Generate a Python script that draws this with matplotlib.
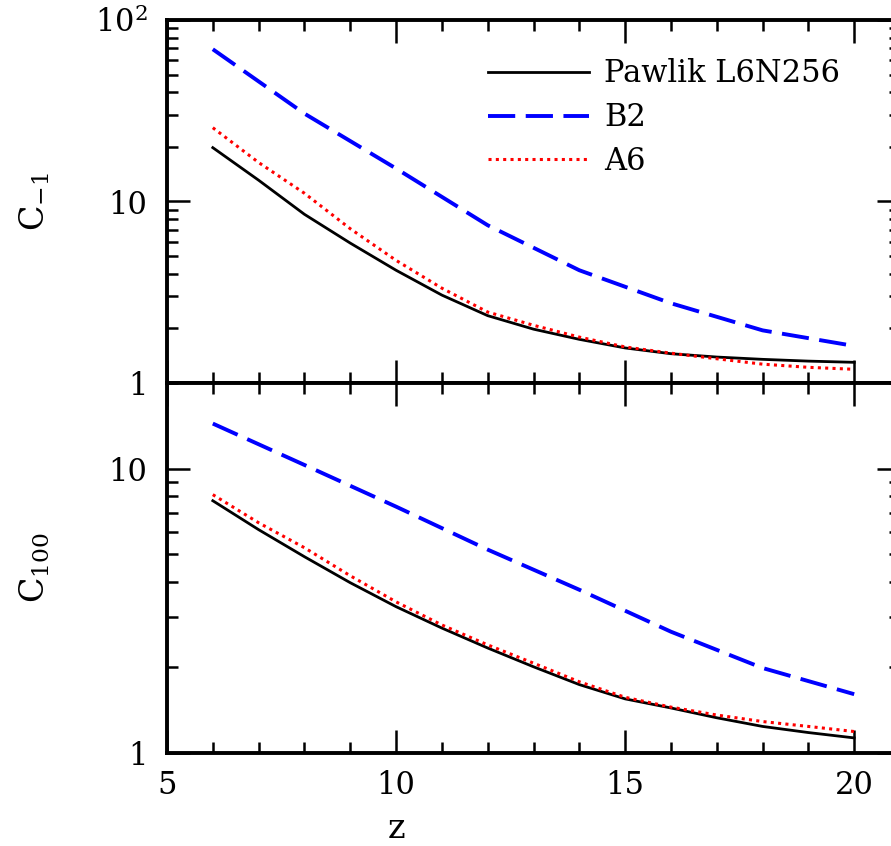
import numpy as np
import matplotlib
matplotlib.use("Agg")
import matplotlib.pyplot as plt
from matplotlib.ticker import LogLocator, FixedLocator, NullFormatter, FixedFormatter

plt.rcParams['font.family'] = ['DejaVu Serif']
plt.rcParams['mathtext.fontset'] = 'dejavuserif'
plt.rcParams['mathtext.default'] = 'regular'

# redshift samples
z_fine = [6, 7, 8, 9, 10, 11, 12, 13, 14, 15, 16, 17, 18, 19, 20]
z_b2 = [6, 8, 10, 12, 14, 16, 18, 20]

# clumping factor C_-1
c1_pawlik = [19.8, 13.1, 8.5, 5.9, 4.18, 3.05, 2.35, 1.98, 1.74, 1.56, 1.45, 1.39, 1.35, 1.32, 1.30]
c1_a6 = [25.5, 16.4, 11.1, 7.08, 4.74, 3.33, 2.46, 2.08, 1.79, 1.58, 1.46, 1.36, 1.27, 1.22, 1.19]
c1_b2 = [69.0, 30.5, 15.2, 7.4, 4.18, 2.75, 1.95, 1.60]

# clumping factor C_100
c100_pawlik = [7.71, 6.1, 4.9, 3.97, 3.27, 2.75, 2.34, 2.01, 1.74, 1.55, 1.44, 1.33, 1.24, 1.18, 1.13]
c100_a6 = [8.1, 6.45, 5.27, 4.2, 3.40, 2.82, 2.40, 2.07, 1.78, 1.57, 1.45, 1.36, 1.29, 1.24, 1.19]
c100_b2 = [14.4, 10.3, 7.35, 5.19, 3.75, 2.67, 1.99, 1.61]

labels = ["Pawlik L6N256", "B2", "A6"]

fig = plt.figure(figsize=(8.91, 8.46), dpi=100)
W, H = 891.0, 846.0
left, right = 167 / W, 900 / W
ax1 = fig.add_axes([left, (H - 383) / H, right - left, (383 - 20) / H])
ax2 = fig.add_axes([left, (H - 753) / H, right - left, (753 - 383) / H])

styles = [
    dict(color='black', lw=2.0, ls='-'),
    dict(color='blue', lw=2.8, ls=(0, (7, 2.7))),
    dict(color='red', lw=2.2, ls=(0, (1, 1.4))),
]

panels = [(ax1, [(z_fine, c1_pawlik), (z_b2, c1_b2), (z_fine, c1_a6)]),
          (ax2, [(z_fine, c100_pawlik), (z_b2, c100_b2), (z_fine, c100_a6)])]

for ax, series in panels:
    for (x, y), st, lab in zip(series, styles, labels):
        ax.plot(x, y, label=lab, **st)
    ax.set_yscale('log')
    ax.set_xlim(5, 21)
    for sp in ax.spines.values():
        sp.set_linewidth(2.8)
    ax.xaxis.set_major_locator(FixedLocator([5, 10, 15, 20]))
    ax.xaxis.set_minor_locator(FixedLocator(np.arange(5, 22, 1)))
    ax.yaxis.set_minor_locator(LogLocator(base=10, subs=np.arange(2, 10), numticks=10))
    ax.yaxis.set_minor_formatter(NullFormatter())
    ax.tick_params(which='both', direction='in', top=True, right=True,
                   labelsize=22, width=1.8, pad=12)
    ax.tick_params(which='major', length=16.5)
    ax.tick_params(which='minor', length=8)
    ax.tick_params(axis='y', pad=14)

ax1.set_ylim(1, 100)
ax2.set_ylim(1, 20)

ax1.yaxis.set_major_locator(FixedLocator([1, 10, 100]))
ax1.yaxis.set_major_formatter(FixedFormatter(['1', '10', '$10^2$']))
ax2.yaxis.set_major_locator(FixedLocator([1, 10]))
ax2.yaxis.set_major_formatter(FixedFormatter(['1', '10']))
ax1.tick_params(axis='x', labelbottom=False)

ax1.set_ylabel('$C_{-1}$', fontsize=24)
ax2.set_ylabel('$C_{100}$', fontsize=24)
ax1.yaxis.set_label_coords(-0.157, 0.5)
ax2.yaxis.set_label_coords(-0.157, 0.5)
ax2.set_xlabel('z', fontsize=24)
ax2.xaxis.set_label_coords(0.3125, -0.162)

ax1.legend(loc='upper left', bbox_to_anchor=(0.438, 0.894), frameon=False,
           fontsize=22, handlelength=3.3, handletextpad=0.5,
           labelspacing=0.42, borderpad=0, borderaxespad=0)

fig.savefig('out.png', dpi=100)
